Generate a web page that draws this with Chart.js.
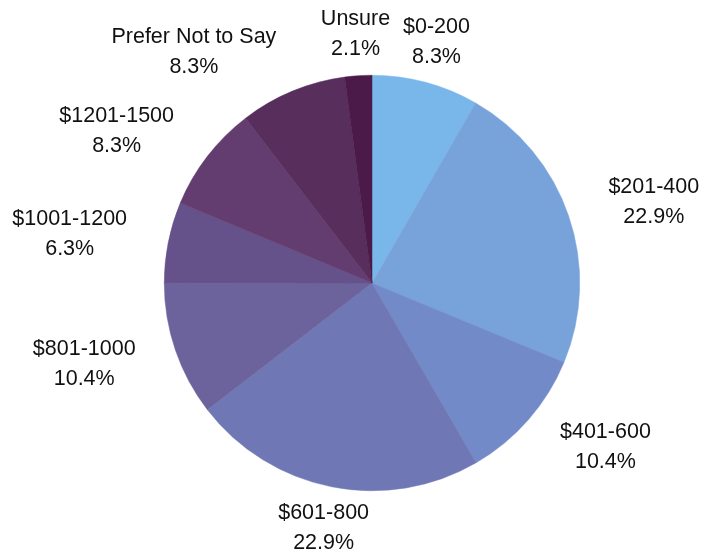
<!DOCTYPE html>
<html>
<head>
<meta charset="utf-8">
<script src="https://cdn.jsdelivr.net/npm/chart.js@4"></script>
<style>
	html, body { margin: 0; padding: 0; background: #fff; }
	#wrap { width: 705px; height: 558px; }
</style>
</head>
<body>
<div id="wrap"><canvas id="myChart" width="705" height="558"></canvas></div>
<script>
const categories = ["$0-200", "$201-400", "$401-600", "$601-800", "$801-1000", "$1001-1200", "$1201-1500", "Prefer Not to Say", "Unsure"];
const shares = [8.3, 22.9, 10.4, 22.9, 10.4, 6.3, 8.3, 8.3, 2.1];
const colors = ["#79b6ea", "#78a3da", "#728bc8", "#6f78b5", "#6c629c", "#65528a", "#633d70", "#582e5c", "#4b1a48"];

// draws "name / xx.x%" outside each slice, both lines centred in their box
const outsideLabels = {
	id: "outsideLabels",
	afterDatasetsDraw(chart) {
		const ctx = chart.ctx;
		const meta = chart.getDatasetMeta(0);
		ctx.save();
		ctx.font = "21.5px 'Liberation Sans', Arial, sans-serif";
		ctx.fillStyle = "#111";
		ctx.textBaseline = "middle";
		ctx.textAlign = "center";
		meta.data.forEach((arc, i) => {
			const mid = (arc.startAngle + arc.endAngle) / 2;
			const r = arc.outerRadius + 42;
			const x = arc.x + Math.cos(mid) * r;
			const y = arc.y + Math.sin(mid) * r;
			const c = Math.cos(mid);
			const line1 = categories[i];
			const line2 = shares[i].toFixed(1) + "%";
			const w = Math.max(ctx.measureText(line1).width, ctx.measureText(line2).width);
			let cx = x;
			if (c > 0.3) cx = x + w / 2;
			else if (c < -0.3) cx = x - w / 2;
			ctx.fillText(line1, cx, y - 15);
			ctx.fillText(line2, cx, y + 15);
		});
		ctx.restore();
	},
};

document.addEventListener("DOMContentLoaded", () => {
	new Chart(document.getElementById("myChart"), {
		type: "pie",
		data: {
			labels: categories,
			datasets: [{
				data: shares,
				backgroundColor: colors,
				borderColor: colors,
				borderWidth: 0.5,
			}],
		},
		options: {
			responsive: false,
			animation: false,
			layout: {
				padding: { top: 75, bottom: 67, left: 164, right: 125 },
			},
			plugins: {
				legend: { display: false },
				tooltip: { enabled: false },
			},
		},
		plugins: [outsideLabels],
	});
});
</script>
</body>
</html>
